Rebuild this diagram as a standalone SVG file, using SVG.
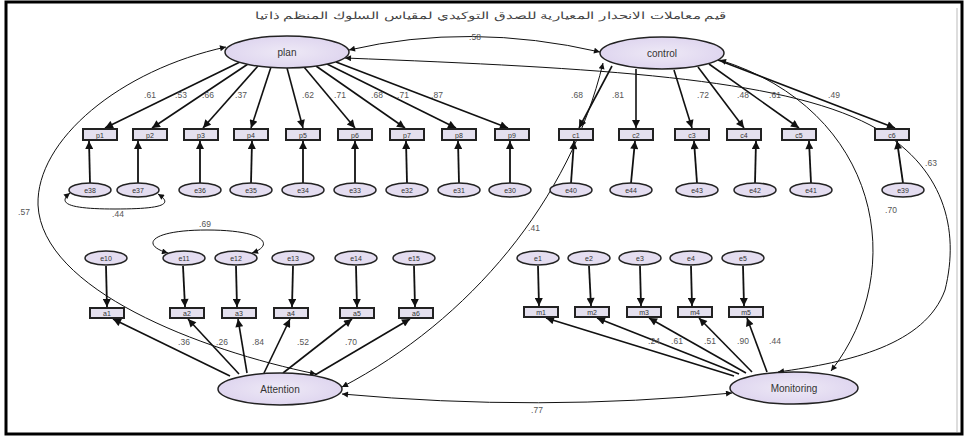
<svg xmlns="http://www.w3.org/2000/svg" width="968" height="439" viewBox="0 0 968 439">
<defs>
<marker id="ah" viewBox="0 0 10 10" refX="10" refY="5" markerWidth="10" markerHeight="8" markerUnits="userSpaceOnUse" orient="auto-start-reverse"><path d="M0,0 L10,5 L0,10 z" fill="#111"/></marker>
<marker id="ahs" viewBox="0 0 10 10" refX="10" refY="5" markerWidth="9" markerHeight="6" markerUnits="userSpaceOnUse" orient="auto-start-reverse"><path d="M0,0 L10,5 L0,10 z" fill="#111"/></marker>
<radialGradient id="lg" cx="50%" cy="50%" r="60%"><stop offset="0" stop-color="#eee9f6"/><stop offset="1" stop-color="#dcd2ee"/></radialGradient>
</defs>
<style>
text{font-family:"Liberation Sans",Arial,sans-serif}
.lat{fill:url(#lg);stroke:#222;stroke-width:1.5}
.err{fill:#e4ddf0;stroke:#222;stroke-width:1.5}
.box{fill:#e4e0ee;stroke:#222;stroke-width:2}
.ln{font-size:10px;fill:#333;text-anchor:middle}
.en{font-size:7px;fill:#333;text-anchor:middle}
.bn{font-size:7px;fill:#333;text-anchor:middle}
.lab{font-size:8.5px;fill:#555;text-anchor:middle}
.ld{fill:none;stroke:#111;stroke-width:1.6;marker-end:url(#ah)}
.ea{fill:none;stroke:#111;stroke-width:1.8;marker-end:url(#ah)}
.cv{fill:none;stroke:#111;stroke-width:1;marker-start:url(#ahs);marker-end:url(#ahs)}
</style>
<rect x="0" y="0" width="968" height="439" fill="#fff"/>
<rect x="6" y="2" width="956" height="432" fill="none" stroke="#000" stroke-width="3"/>
<line x1="957" y1="8" x2="957" y2="432" stroke="#bbb" stroke-width="1"/>
<text x="491" y="19" font-size="10" fill="#444" text-anchor="middle" textLength="472" lengthAdjust="spacingAndGlyphs">قيم معاملات الانحدار المعيارية للصدق التوكيدي لمقياس السلوك المنظم ذاتيا</text>

<g id="connectors">
<path class="ld" d="M240 62 L105 128"/>
<path class="ld" d="M248 64 L152 128"/>
<path class="ld" d="M258 66 L203 128"/>
<path class="ld" d="M271 67 L251 128"/>
<path class="ld" d="M287 68 L303 128"/>
<path class="ld" d="M304 67 L355 128"/>
<path class="ld" d="M316 66 L405 128"/>
<path class="ld" d="M327 64 L456 128"/>
<path class="ld" d="M336 62 L508 128"/>
<path class="ld" d="M612 66 L579 128"/>
<path class="ld" d="M636 69 L636 128"/>
<path class="ld" d="M674 70 L692 128"/>
<path class="ld" d="M698 67 L744 128"/>
<path class="ld" d="M709 64 L799 128"/>
<path class="ld" d="M718 60 L895 128"/>
<path class="ea" d="M90 183 L89 141"/>
<path class="ea" d="M138 183 L138 141"/>
<path class="ea" d="M200 183 L200 141"/>
<path class="ea" d="M251 183 L252 141"/>
<path class="ea" d="M303 183 L303 141"/>
<path class="ea" d="M355 183 L355 141"/>
<path class="ea" d="M407 183 L406 141"/>
<path class="ea" d="M459 183 L458 141"/>
<path class="ea" d="M510 183 L510 141"/>
<path class="ea" d="M571 183 L574 141"/>
<path class="ea" d="M631 183 L635 141"/>
<path class="ea" d="M697 183 L694 141"/>
<path class="ea" d="M755 183 L756 141"/>
<path class="ea" d="M811 183 L809 141"/>
<path class="ea" d="M903 183 L897 141"/>
<path class="ea" d="M106 266 L107 307"/>
<path class="ea" d="M183 266 L185 307"/>
<path class="ea" d="M236 266 L237 307"/>
<path class="ea" d="M293 266 L292 307"/>
<path class="ea" d="M356 266 L357 307"/>
<path class="ea" d="M414 266 L415 307"/>
<path class="ea" d="M538 266 L539 306"/>
<path class="ea" d="M589 266 L591 306"/>
<path class="ea" d="M640 266 L641 306"/>
<path class="ea" d="M691 266 L692 306"/>
<path class="ea" d="M743 266 L744 306"/>
<path class="ld" d="M230 376 L113 319"/>
<path class="ld" d="M239 374 L188 319"/>
<path class="ld" d="M247 373 L238 319"/>
<path class="ld" d="M264 373 L290 319"/>
<path class="ld" d="M283 373 L352 319"/>
<path class="ld" d="M315 375 L410 319"/>
<path class="ld" d="M734 376 L546 318"/>
<path class="ld" d="M739 374 L597 318"/>
<path class="ld" d="M746 373 L649 318"/>
<path class="ld" d="M752 372 L699 318"/>
<path class="ld" d="M767 372 L747 318"/>
<path class="cv" d="M349 50 Q470 22 600 52"/>
<path class="cv" d="M345 58 C600 68 780 78 870 125 C945 165 960 230 945 290 C925 345 850 362 778 372"/>
<path class="cv" d="M720 60 C880 110 910 270 831 371"/>
<path class="cv" d="M226 47 C120 70 36 140 38 205 C42 290 200 350 316 374"/>
<path class="cv" d="M603 63 C570 200 470 320 342 387"/>
<path class="cv" d="M342 394 Q540 412 732 393"/>
<path class="cv" d="M70 193 C55 205 75 209 115 209 C160 209 175 205 158 194"/>
<path class="cv" d="M168 253 C140 245 150 230 207 230 C265 230 275 245 252 253"/>
<text class="lab" x="150" y="98">.61</text>
<text class="lab" x="181" y="98">.53</text>
<text class="lab" x="208" y="98">.66</text>
<text class="lab" x="241" y="98">.37</text>
<text class="lab" x="308" y="98">.62</text>
<text class="lab" x="340" y="98">.71</text>
<text class="lab" x="377" y="98">.68</text>
<text class="lab" x="403" y="98">.71</text>
<text class="lab" x="437" y="98">.87</text>
<text class="lab" x="577" y="98">.68</text>
<text class="lab" x="618" y="98">.81</text>
<text class="lab" x="703" y="98">.72</text>
<text class="lab" x="743" y="98">.48</text>
<text class="lab" x="775" y="98">.61</text>
<text class="lab" x="834" y="98">.49</text>
<text class="lab" x="475" y="40">.58</text>
<text class="lab" x="931" y="166">.63</text>
<text class="lab" x="891" y="213">.70</text>
<text class="lab" x="24" y="215">.57</text>
<text class="lab" x="118" y="217">.44</text>
<text class="lab" x="205" y="227">.69</text>
<text class="lab" x="534" y="231">.41</text>
<text class="lab" x="184" y="345">.36</text>
<text class="lab" x="222" y="345">.26</text>
<text class="lab" x="258" y="345">.84</text>
<text class="lab" x="303" y="345">.52</text>
<text class="lab" x="351" y="345">.70</text>
<text class="lab" x="654" y="344">.24</text>
<text class="lab" x="677" y="344">.61</text>
<text class="lab" x="710" y="344">.51</text>
<text class="lab" x="743" y="344">.90</text>
<text class="lab" x="775" y="344">.44</text>
<text class="lab" x="537" y="413">.77</text>
</g>

<g id="plan"><ellipse class="lat" cx="287" cy="52" rx="62" ry="16"/><text class="ln" x="287" y="56">plan</text></g>
<g id="control"><ellipse class="lat" cx="662" cy="53" rx="62" ry="16"/><text class="ln" x="662" y="57">control</text></g>
<g id="Attention"><ellipse class="lat" cx="280" cy="389" rx="62" ry="16"/><text class="ln" x="280" y="393">Attention</text></g>
<g id="Monitoring"><ellipse class="lat" cx="794" cy="388" rx="64" ry="16"/><text class="ln" x="794" y="392">Monitoring</text></g>

<g id="p1"><rect class="box" x="83" y="129" width="34" height="11"/><text class="bn" x="100" y="137.5">p1</text></g>
<g id="p2"><rect class="box" x="133" y="129" width="34" height="11"/><text class="bn" x="150" y="137.5">p2</text></g>
<g id="p3"><rect class="box" x="184" y="129" width="34" height="11"/><text class="bn" x="201" y="137.5">p3</text></g>
<g id="p4"><rect class="box" x="234" y="129" width="34" height="11"/><text class="bn" x="251" y="137.5">p4</text></g>
<g id="p5"><rect class="box" x="286" y="129" width="34" height="11"/><text class="bn" x="303" y="137.5">p5</text></g>
<g id="p6"><rect class="box" x="338" y="129" width="34" height="11"/><text class="bn" x="355" y="137.5">p6</text></g>
<g id="p7"><rect class="box" x="390" y="129" width="34" height="11"/><text class="bn" x="407" y="137.5">p7</text></g>
<g id="p8"><rect class="box" x="442" y="129" width="34" height="11"/><text class="bn" x="459" y="137.5">p8</text></g>
<g id="p9"><rect class="box" x="495" y="129" width="34" height="11"/><text class="bn" x="512" y="137.5">p9</text></g>

<g id="c1"><rect class="box" x="559" y="129" width="34" height="11"/><text class="bn" x="576" y="137.5">c1</text></g>
<g id="c2"><rect class="box" x="619" y="129" width="34" height="11"/><text class="bn" x="636" y="137.5">c2</text></g>
<g id="c3"><rect class="box" x="675" y="129" width="34" height="11"/><text class="bn" x="692" y="137.5">c3</text></g>
<g id="c4"><rect class="box" x="727" y="129" width="34" height="11"/><text class="bn" x="744" y="137.5">c4</text></g>
<g id="c5"><rect class="box" x="782" y="129" width="34" height="11"/><text class="bn" x="799" y="137.5">c5</text></g>
<g id="c6"><rect class="box" x="875" y="129" width="34" height="11"/><text class="bn" x="892" y="137.5">c6</text></g>

<g id="e38"><ellipse class="err" cx="90" cy="190" rx="21" ry="7"/><text class="en" x="90" y="192.5">e38</text></g>
<g id="e37"><ellipse class="err" cx="138" cy="190" rx="21" ry="7"/><text class="en" x="138" y="192.5">e37</text></g>
<g id="e36"><ellipse class="err" cx="200" cy="190" rx="21" ry="7"/><text class="en" x="200" y="192.5">e36</text></g>
<g id="e35"><ellipse class="err" cx="251" cy="190" rx="21" ry="7"/><text class="en" x="251" y="192.5">e35</text></g>
<g id="e34"><ellipse class="err" cx="303" cy="190" rx="21" ry="7"/><text class="en" x="303" y="192.5">e34</text></g>
<g id="e33"><ellipse class="err" cx="355" cy="190" rx="21" ry="7"/><text class="en" x="355" y="192.5">e33</text></g>
<g id="e32"><ellipse class="err" cx="407" cy="190" rx="21" ry="7"/><text class="en" x="407" y="192.5">e32</text></g>
<g id="e31"><ellipse class="err" cx="459" cy="190" rx="21" ry="7"/><text class="en" x="459" y="192.5">e31</text></g>
<g id="e30"><ellipse class="err" cx="510" cy="190" rx="21" ry="7"/><text class="en" x="510" y="192.5">e30</text></g>

<g id="e40"><ellipse class="err" cx="571" cy="190" rx="21" ry="7"/><text class="en" x="571" y="192.5">e40</text></g>
<g id="e44"><ellipse class="err" cx="631" cy="190" rx="21" ry="7"/><text class="en" x="631" y="192.5">e44</text></g>
<g id="e43"><ellipse class="err" cx="697" cy="190" rx="21" ry="7"/><text class="en" x="697" y="192.5">e43</text></g>
<g id="e42"><ellipse class="err" cx="755" cy="190" rx="21" ry="7"/><text class="en" x="755" y="192.5">e42</text></g>
<g id="e41"><ellipse class="err" cx="811" cy="190" rx="21" ry="7"/><text class="en" x="811" y="192.5">e41</text></g>
<g id="e39"><ellipse class="err" cx="903" cy="190" rx="21" ry="7"/><text class="en" x="903" y="192.5">e39</text></g>

<g id="e10"><ellipse class="err" cx="106" cy="258" rx="21" ry="7"/><text class="en" x="106" y="260.5">e10</text></g>
<g id="e11"><ellipse class="err" cx="184" cy="258" rx="21" ry="7"/><text class="en" x="184" y="260.5">e11</text></g>
<g id="e12"><ellipse class="err" cx="236" cy="258" rx="21" ry="7"/><text class="en" x="236" y="260.5">e12</text></g>
<g id="e13"><ellipse class="err" cx="293" cy="258" rx="21" ry="7"/><text class="en" x="293" y="260.5">e13</text></g>
<g id="e14"><ellipse class="err" cx="356" cy="258" rx="21" ry="7"/><text class="en" x="356" y="260.5">e14</text></g>
<g id="e15"><ellipse class="err" cx="414" cy="258" rx="21" ry="7"/><text class="en" x="414" y="260.5">e15</text></g>

<g id="a1"><rect class="box" x="90" y="308" width="34" height="10"/><text class="bn" x="107" y="316">a1</text></g>
<g id="a2"><rect class="box" x="170" y="308" width="34" height="10"/><text class="bn" x="187" y="316">a2</text></g>
<g id="a3"><rect class="box" x="222" y="308" width="34" height="10"/><text class="bn" x="239" y="316">a3</text></g>
<g id="a4"><rect class="box" x="274" y="308" width="34" height="10"/><text class="bn" x="291" y="316">a4</text></g>
<g id="a5"><rect class="box" x="340" y="308" width="34" height="10"/><text class="bn" x="357" y="316">a5</text></g>
<g id="a6"><rect class="box" x="399" y="308" width="34" height="10"/><text class="bn" x="416" y="316">a6</text></g>

<g id="e1"><ellipse class="err" cx="538" cy="258" rx="21" ry="7"/><text class="en" x="538" y="260.5">e1</text></g>
<g id="e2"><ellipse class="err" cx="589" cy="258" rx="21" ry="7"/><text class="en" x="589" y="260.5">e2</text></g>
<g id="e3"><ellipse class="err" cx="640" cy="258" rx="21" ry="7"/><text class="en" x="640" y="260.5">e3</text></g>
<g id="e4"><ellipse class="err" cx="691" cy="258" rx="21" ry="7"/><text class="en" x="691" y="260.5">e4</text></g>
<g id="e5"><ellipse class="err" cx="743" cy="258" rx="21" ry="7"/><text class="en" x="743" y="260.5">e5</text></g>

<g id="m1"><rect class="box" x="524" y="307" width="34" height="10"/><text class="bn" x="541" y="315">m1</text></g>
<g id="m2"><rect class="box" x="575" y="307" width="34" height="10"/><text class="bn" x="592" y="315">m2</text></g>
<g id="m3"><rect class="box" x="627" y="307" width="34" height="10"/><text class="bn" x="644" y="315">m3</text></g>
<g id="m4"><rect class="box" x="678" y="307" width="34" height="10"/><text class="bn" x="695" y="315">m4</text></g>
<g id="m5"><rect class="box" x="729" y="307" width="34" height="10"/><text class="bn" x="746" y="315">m5</text></g>
</svg>
